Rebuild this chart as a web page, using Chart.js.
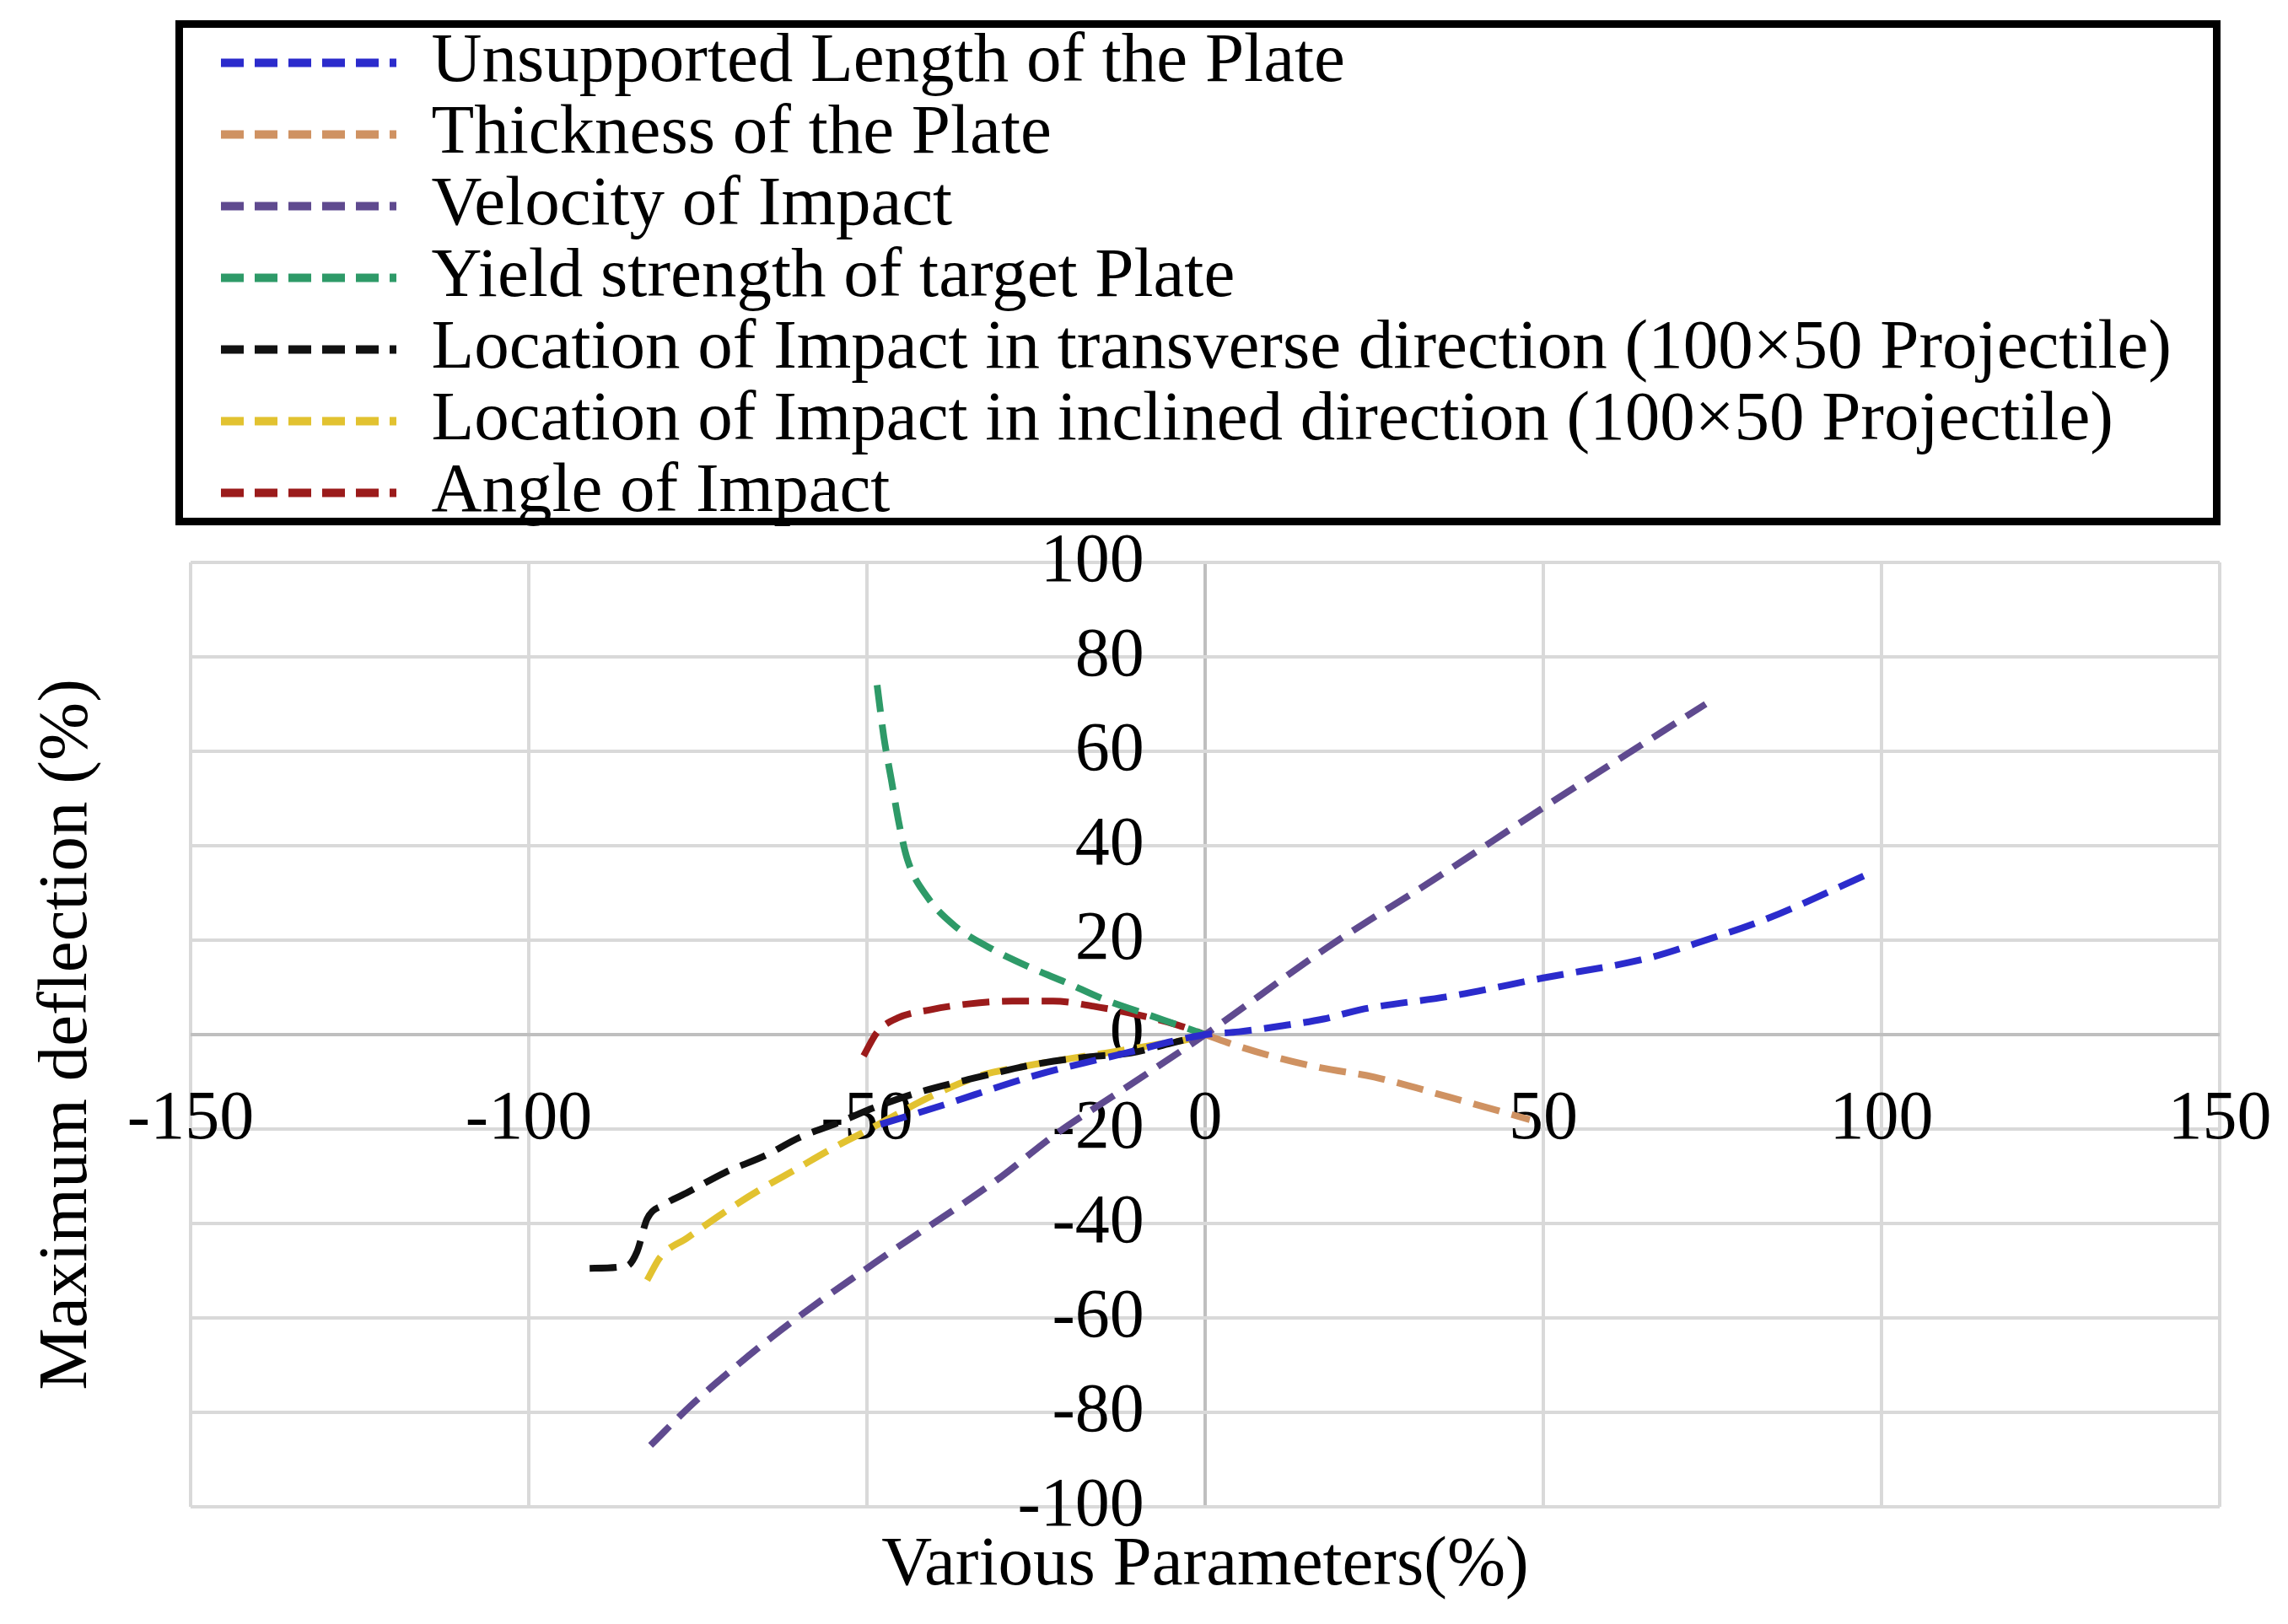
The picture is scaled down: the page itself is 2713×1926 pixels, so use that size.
<!DOCTYPE html>
<html>
<head>
<meta charset="utf-8">
<script src="https://cdn.jsdelivr.net/npm/chart.js@4.4.1/dist/chart.umd.min.js"></script>
<style>
  html, body { margin: 0; padding: 0; background: #fff; }
  canvas { display: block; }
</style>
</head>
<body>
<canvas id="chart" width="2713" height="1926"></canvas>
<script>
// values
const unsupportedX = [-48, -40, -25, -12, 0, 5, 12, 17.5, 23, 36.5, 50, 65.5, 74, 83, 98];
const unsupportedY = [-19, -15.5, -8.6, -4, 0, 0.6, 2, 3.3, 5.3, 8.2, 12, 16.2, 20, 24.5, 34];

const thicknessX = [0, 5, 11, 17, 25, 36, 48];
const thicknessY = [0, -2.5, -5, -7, -9, -13.2, -18];

const velocityX = [-82, -76, -70, -64, -57, -50, -47, -31, -22, -12, 0, 18, 34, 51, 74];
const velocityY = [-87, -78.5, -71, -64, -56.5, -49.5, -46.5, -31, -21, -11.5, 0, 18.4, 33, 49, 70];

const yieldX = [-48.5, -47.5, -46.4, -45.3, -44, -41, -37, -32, -26, -20.5, -15, -8, 0];
const yieldY = [74, 63, 54, 45, 37, 29, 23, 18.5, 14.3, 11, 7.5, 4, 0];

const transverseX = [-91, -85.5, -84, -82.5, -80, -76.5, -71, -65, -60, -54.5, -49, -43, -35, -24, -17, -11, -5, 0];
const transverseY = [-49.5, -49, -46, -39, -36, -33.4, -29.2, -25.6, -21.8, -18.8, -15.5, -12.5, -9.5, -6, -4.7, -3.9, -1.8, 0];

const inclinedX = [-82.5, -80.5, -76.5, -71.5, -66, -60.5, -55, -50, -40, -33, -27, -20.5, -14.7, -7.6, -2.2, 0];
const inclinedY = [-52, -47, -43, -38, -33, -28.5, -24, -20.3, -12.7, -8.6, -6.8, -5.2, -3.9, -2.2, -0.9, 0];

const angleX = [-50.5, -48.5, -45.5, -40.5, -35, -28.5, -22.5, -16.5, -10, -4, 0];
const angleY = [-4.5, 0.5, 3.5, 5.3, 6.5, 7.1, 7.1, 6, 4.2, 2, 0];

const seriesNames = [
  'Unsupported Length of the Plate',
  'Thickness of the Plate',
  'Velocity of Impact',
  'Yield strength of target Plate',
  'Location of Impact in transverse direction (100\u00d750 Projectile)',
  'Location of Impact in inclined direction (100\u00d750 Projectile)',
  'Angle of Impact'
];
const seriesColors = ['#2b2bcc', '#cf9262', '#5f4a8f', '#2e9a68', '#111111', '#e2c230', '#9b1b1b'];

const xTicks = { min: -150, max: 150, step: 50 };
const yTicks = { min: -100, max: 100, step: 20 };
const xTitle = 'Various Parameters(%)';
const yTitle = 'Maximum deflection (%)';

const serif = '"Liberation Serif", "Times New Roman", serif';
const gridGray = '#d9d9d9';
const axisGray = '#bfbfbf';
const plotDash = [32, 15];
const legendDash = [27, 13];

function pairs(xs, ys) {
  return xs.map((x, i) => ({ x: x, y: ys[i] }));
}

const allSeries = [
  pairs(unsupportedX, unsupportedY),
  pairs(thicknessX, thicknessY),
  pairs(velocityX, velocityY),
  pairs(yieldX, yieldY),
  pairs(transverseX, transverseY),
  pairs(inclinedX, inclinedY),
  pairs(angleX, angleY)
];

const datasets = allSeries.map((pts, i) => ({
  label: seriesNames[i],
  data: pts,
  showLine: true,
  borderColor: seriesColors[i],
  backgroundColor: seriesColors[i],
  borderWidth: 8,
  borderDash: plotDash,
  pointRadius: 0,
  pointHoverRadius: 0,
  cubicInterpolationMode: 'monotone',
  fill: false
}));

// legend box sits above the plot, the frame and the axis titles are drawn here
const frame = {
  id: 'frame',
  beforeDraw(chart) {
    const lg = chart.legend;
    lg.left = 260;
    lg.top = 31;
    lg.right = 2629;
    lg.bottom = 760;
    lg.width = lg.right - lg.left;
    lg.height = lg.bottom - lg.top;
  },
  afterDraw(chart) {
    const ctx = chart.ctx;
    const a = chart.chartArea;
    ctx.save();
    ctx.strokeStyle = '#000';
    ctx.lineWidth = 9;
    ctx.strokeRect(212.5, 28.5, 2416, 590);

    ctx.fillStyle = '#000';
    ctx.font = '83px ' + serif;
    ctx.textAlign = 'center';
    ctx.textBaseline = 'middle';
    ctx.fillText(xTitle, (a.left + a.right) / 2, a.bottom + 70);
    ctx.translate(80, (a.top + a.bottom) / 2);
    ctx.rotate(-Math.PI / 2);
    ctx.fillText(yTitle, 0, 0);
    ctx.restore();
  }
};

new Chart(document.getElementById('chart'), {
  type: 'scatter',
  data: { datasets: datasets },
  options: {
    responsive: false,
    animation: false,
    devicePixelRatio: 1,
    layout: { padding: { left: 226, right: 81, top: 667, bottom: 139 } },
    plugins: {
      tooltip: { enabled: false },
      legend: {
        position: 'chartArea',
        fullSize: false,
        align: 'start',
        labels: {
          usePointStyle: true,
          pointStyle: 'line',
          pointStyleWidth: 208,
          boxHeight: 83,
          padding: 2,
          color: '#000',
          font: { family: serif, size: 83 },
          generateLabels(chart) {
            const items = Chart.defaults.plugins.legend.labels.generateLabels(chart);
            items.forEach(it => {
              const ds = chart.data.datasets[it.datasetIndex];
              it.pointStyle = 'line';
              it.strokeStyle = ds.borderColor;
              it.lineWidth = 10;
              it.lineDash = legendDash;
              it.lineDashOffset = 0;
            });
            return items;
          }
        }
      }
    },
    scales: {
      x: {
        type: 'linear',
        min: xTicks.min,
        max: xTicks.max,
        position: { y: 0 },
        border: { display: false },
        grid: {
          color: c => (c.tick && c.tick.value === 0 ? axisGray : gridGray),
          lineWidth: 4,
          drawTicks: true,
          tickLength: 52,
          tickColor: 'rgba(0,0,0,0)'
        },
        ticks: {
          stepSize: xTicks.step,
          padding: 0,
          maxRotation: 0,
          autoSkip: false,
          color: '#000',
          font: { family: serif, size: 82 }
        },
        afterFit: s => { s.height = 0; }
      },
      y: {
        type: 'linear',
        min: yTicks.min,
        max: yTicks.max,
        position: { x: -9 },
        border: { display: false },
        grid: {
          color: c => (c.tick && c.tick.value === 0 ? axisGray : gridGray),
          lineWidth: 4,
          drawTicks: false
        },
        ticks: {
          stepSize: yTicks.step,
          padding: 0,
          autoSkip: false,
          color: '#000',
          font: { family: serif, size: 82 }
        },
        afterFit: s => { s.width = 0; }
      }
    }
  },
  plugins: [frame]
});
</script>
</body>
</html>
